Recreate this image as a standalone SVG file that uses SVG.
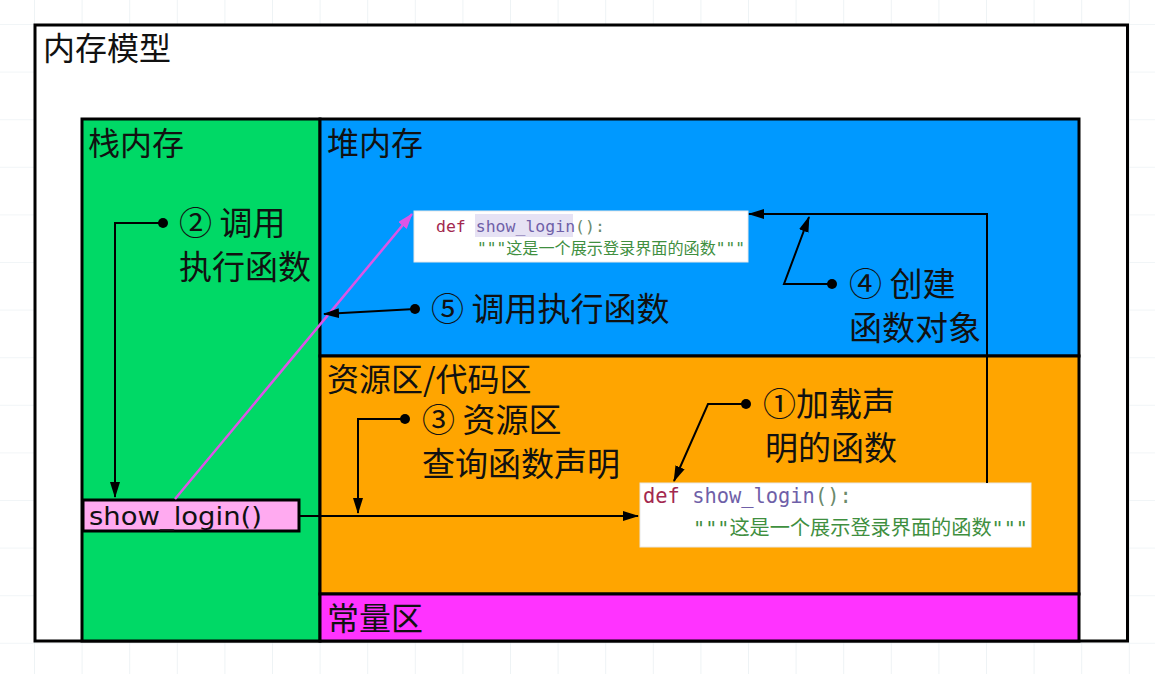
<svg xmlns="http://www.w3.org/2000/svg" width="1155" height="674" viewBox="0 0 1155 674">
<defs>
  <pattern id="grid" patternUnits="userSpaceOnUse" x="34" y="24" width="47.6" height="47.6">
    <path d="M0 0 H47.6 M0 0 V47.6" fill="none" stroke="#e3ecef" stroke-width="1.2"/>
  </pattern>
  <marker id="arr" viewBox="0 0 16 10" refX="15" refY="5" markerWidth="16" markerHeight="10" markerUnits="userSpaceOnUse" orient="auto">
    <path d="M0 0 L16 5 L0 10 Z" fill="#000"/>
  </marker>
  <marker id="arrm" viewBox="0 0 16 11" refX="15" refY="5.5" markerWidth="16" markerHeight="11" markerUnits="userSpaceOnUse" orient="auto">
    <path d="M0 0 L16 5.5 L0 11 Z" fill="#dd55e6"/>
  </marker>
  <marker id="dot" viewBox="0 0 10 10" refX="5" refY="5" markerWidth="10" markerHeight="10" markerUnits="userSpaceOnUse">
    <circle cx="5" cy="5" r="5" fill="#000"/>
  </marker>
</defs>
<style>
  .box { stroke: #000; stroke-width: 3; }
  .lbl { font-family: "Noto Sans CJK SC", "Noto Sans", sans-serif; font-size: 32px; fill: #111; }
  .ann { font-family: "Noto Sans CJK SC", "Noto Sans", sans-serif; font-size: 33px; fill: #111; }
  .code { font-family: "DejaVu Sans Mono", "Liberation Mono", "Noto Sans CJK SC", monospace; }
  .kw { fill: #a3284f; }
  .fn { fill: #6f5fa8; }
  .pun { fill: #6b8a6b; }
  .doc { fill: #3f8f3f; font-family: "DejaVu Sans Mono", "Noto Sans CJK SC", monospace; }
  .con { fill: none; stroke: #000; stroke-width: 2; }
</style>
<rect width="1155" height="674" fill="#ffffff"/>
<rect width="1155" height="674" fill="url(#grid)"/>

<g id="memory-model">
  <rect class="box" x="35" y="25" width="1092.5" height="616" fill="#ffffff"/>
  <text class="lbl" x="43" y="60">内存模型</text>
</g>

<g id="stack">
  <rect class="box" x="82" y="119" width="238" height="522" fill="#00d966"/>
  <text class="lbl" x="88" y="155">栈内存</text>
</g>

<g id="heap">
  <rect class="box" x="320" y="119" width="759" height="237" fill="#0099ff"/>
  <text class="lbl" x="327" y="155">堆内存</text>
</g>

<g id="resource">
  <rect class="box" x="320" y="356" width="759" height="238" fill="#ffa500"/>
  <text class="lbl" x="327" y="391">资源区/代码区</text>
</g>

<g id="constant">
  <rect class="box" x="320" y="594" width="759" height="47" fill="#ff33ff"/>
  <text class="lbl" x="327" y="630">常量区</text>
</g>

<g id="show-login-call">
  <rect class="box" x="83" y="500" width="216" height="31" fill="#ffaaf0"/>
  <text x="89" y="525" font-family="'DejaVu Sans', 'Liberation Sans', sans-serif" font-size="24" fill="#111" textLength="173" lengthAdjust="spacingAndGlyphs">show_login()</text>
</g>

<g id="heap-function-object">
  <rect x="414" y="211" width="334" height="51" fill="#ffffff" stroke="#e8e8e8" stroke-width="1"/>
  <rect x="475" y="214" width="98" height="23" fill="#e6e2f4"/>
  <text class="code" x="436" y="232" font-size="16.5"><tspan class="kw">def</tspan> <tspan class="fn">show_login</tspan><tspan class="pun">():</tspan></text>
  <text class="doc" x="477" y="254" font-size="16" textLength="268" lengthAdjust="spacingAndGlyphs">"""这是一个展示登录界面的函数"""</text>
</g>

<g id="code-declaration">
  <rect x="640" y="483" width="391" height="64" fill="#ffffff" stroke="#e8e8e8" stroke-width="1"/>
  <text class="code" x="643" y="503" font-size="20.4"><tspan class="kw">def</tspan> <tspan class="fn">show_login</tspan><tspan class="pun">():</tspan></text>
  <text class="doc" x="693" y="535" font-size="20" textLength="335" lengthAdjust="spacingAndGlyphs">"""这是一个展示登录界面的函数"""</text>
</g>

<g id="labels">
  <text class="ann" x="179" y="235">② 调用<tspan x="179" dy="44">执行函数</tspan></text>
  <text class="ann" x="431" y="321">⑤ 调用执行函数</text>
  <text class="ann" x="849" y="296">④ 创建<tspan x="849" dy="44">函数对象</tspan></text>
  <text class="ann" x="422" y="432">③ 资源区<tspan x="422" dy="44">查询函数声明</tspan></text>
  <text class="ann" x="763" y="416">①加载声<tspan x="765" dy="44">明的函数</tspan></text>
</g>

<g id="connectors">
  <path class="con" d="M299 516 H638" marker-end="url(#arr)"/>
  <path class="con" d="M746 404 H708 L674 481" marker-start="url(#dot)" marker-end="url(#arr)"/>
  <path class="con" d="M405 419 H358 V513" marker-start="url(#dot)" marker-end="url(#arr)"/>
  <path class="con" d="M163 223 H115 V497" marker-start="url(#dot)" marker-end="url(#arr)"/>
  <path d="M175 499 L412 214" fill="none" stroke="#dd55e6" stroke-width="2.5" marker-end="url(#arrm)"/>
  <path class="con" d="M415 309 L324 314" marker-start="url(#dot)" marker-end="url(#arr)"/>
  <path class="con" d="M987 483 V214 H749" marker-end="url(#arr)"/>
  <path class="con" d="M832 284 H784 L809 217" marker-start="url(#dot)" marker-end="url(#arr)"/>
</g>
</svg>
